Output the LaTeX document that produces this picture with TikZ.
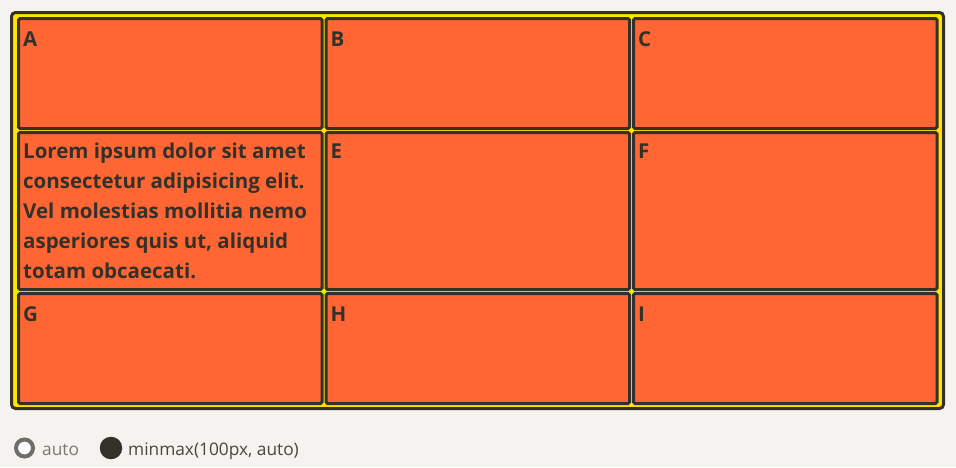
\documentclass[tikz,border=0pt]{standalone}
\usepackage{fontspec}
\setmainfont{Open Sans}
\usetikzlibrary{positioning}
\definecolor{pagebg}{HTML}{F4F3EF}
\definecolor{ink}{HTML}{333129}
\definecolor{tomatocell}{HTML}{FF6633}
\definecolor{gridyellow}{HTML}{FFE500}
\definecolor{ringgrey}{HTML}{6F6E67}
\definecolor{softgrey}{HTML}{7A7872}

\begin{document}
\begin{tikzpicture}[x=1pt, y=-1pt, node distance=1pt,
  frame/.style={draw=ink, fill=gridyellow, line width=3pt, rounded corners=4pt, inner sep=0pt, anchor=north west},
  cell/.style={draw=ink, fill=tomatocell, line width=3pt, rounded corners=1.5pt, inner sep=0pt, minimum width=303.5pt},
  shortrow/.style={cell, minimum height=110pt},
  tallrow/.style={cell, minimum height=157pt},
  lbl/.style={anchor=base west, inner sep=0pt, text=ink, font=\fontsize{20.5}{30}\selectfont\bfseries},
  legtext/.style={anchor=base west, inner sep=0pt, font=\fontsize{17.3}{22}\selectfont}]
% page
\fill[pagebg] (0,0) rectangle (956,467);
\useasboundingbox (0,0) rectangle (956,467);
% grid container
\node[frame, minimum width=932pt, minimum height=396pt] (grid) at (10,11) {};
% cells
\node[shortrow, anchor=north west] (a) at ([shift={(7,6)}]grid.north west) {};
\node[shortrow, right=of a] (b) {};
\node[shortrow, right=of b] (c) {};
\node[tallrow, below=of a] (d) {};
\node[tallrow, right=of d] (e) {};
\node[tallrow, right=of e] (f) {};
\node[shortrow, below=of d] (g) {};
\node[shortrow, right=of g] (h) {};
\node[shortrow, right=of h] (i) {};
% cell texts (base of the long text is its last line)
\node[lbl] (la) at ([shift={(6,29.5)}]a.north west) {A};
\node[lbl] (lb) at ([shift={(6,29.5)}]b.north west) {B};
\node[lbl] (lc) at ([shift={(6,29.5)}]c.north west) {C};
\node[lbl, align=left] (ld) at ([shift={(6,147.5)}]d.north west) {Lorem ipsum dolor sit amet\\consectetur adipisicing elit.\\Vel molestias mollitia nemo\\asperiores quis ut, aliquid\\totam obcaecati.};
\node[lbl] (le) at ([shift={(6,27.5)}]e.north west) {E};
\node[lbl] (lf) at ([shift={(6,27.5)}]f.north west) {F};
\node[lbl] (lg) at ([shift={(6,29.5)}]g.north west) {G};
\node[lbl] (lh) at ([shift={(6,29.5)}]h.north west) {H};
\node[lbl] (li) at ([shift={(6,29.5)}]i.north west) {I};
% legend
\node[circle, draw=ringgrey, fill=white, line width=4pt, inner sep=0pt, minimum size=17pt] (autodot) at (24.5,448) {};
\node[legtext, text=softgrey] (autotxt) at (42,455) {auto};
\node[circle, fill=ink, inner sep=0pt, minimum size=22.5pt] (minmaxdot) at (111,448) {};
\node[legtext, text=ink!90] (minmaxtxt) at (128,455) {minmax(100px, auto)};
\end{tikzpicture}
\end{document}
